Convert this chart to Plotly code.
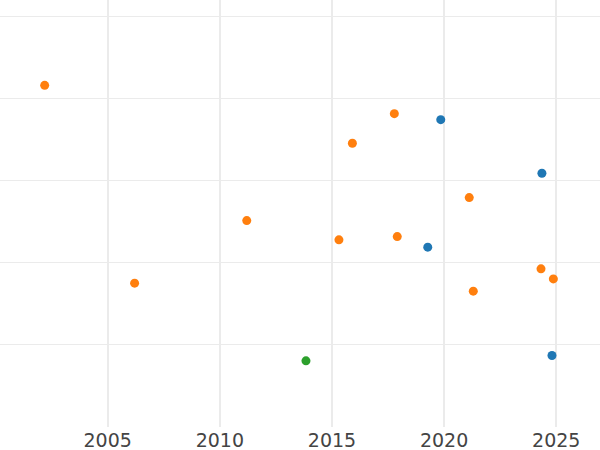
import plotly.graph_objects as go

# Series data (x = year, y = value)
orange_x = [2002.19, 2017.78, 2015.91, 2021.12, 2011.20, 2015.31, 2017.91, 2024.32, 2024.87, 2021.30, 2006.20]
orange_y = [41.57, 38.12, 34.52, 27.91, 25.11, 22.77, 23.17, 19.24, 18.02, 16.53, 17.50]

blue_x = [2019.85, 2024.36, 2019.27, 2024.81]
blue_y = [37.39, 30.87, 21.88, 8.70]

green_x = [2013.84]
green_y = [8.05]

x_ticks = [2005, 2010, 2015, 2020, 2025]
y_ticks = [10, 20, 30, 40, 50]

fig = go.Figure()
for name, xs, ys, col in [
    ("Series A", blue_x, blue_y, "#1f77b4"),
    ("Series B", orange_x, orange_y, "#ff7f0e"),
    ("Series C", green_x, green_y, "#2ca02c"),
]:
    fig.add_trace(go.Scatter(x=xs, y=ys, mode="markers", name=name,
                             marker=dict(color=col, size=9, line=dict(width=0))))

fig.update_layout(
    width=600, height=450,
    margin=dict(l=0, r=0, t=0, b=23, pad=0),
    paper_bgcolor="white", plot_bgcolor="white",
    showlegend=False,
    font=dict(family="DejaVu Sans", size=19, color="#444444"),
)
fig.update_xaxes(range=[2000.198, 2026.95], tickvals=x_ticks, ticktext=[str(t) for t in x_ticks],
                 showgrid=True, gridcolor="#ebebeb", gridwidth=1.5, zeroline=False,
                 showline=False, ticks="", automargin=False)
fig.update_yaxes(range=[0, 51.95], tickvals=y_ticks, showticklabels=False,
                 showgrid=True, gridcolor="#ebebeb", gridwidth=1, zeroline=False,
                 showline=False, ticks="", automargin=False)

fig.write_html("out.html", config={"displayModeBar": False},
               post_script="document.body.style.margin='0';")
